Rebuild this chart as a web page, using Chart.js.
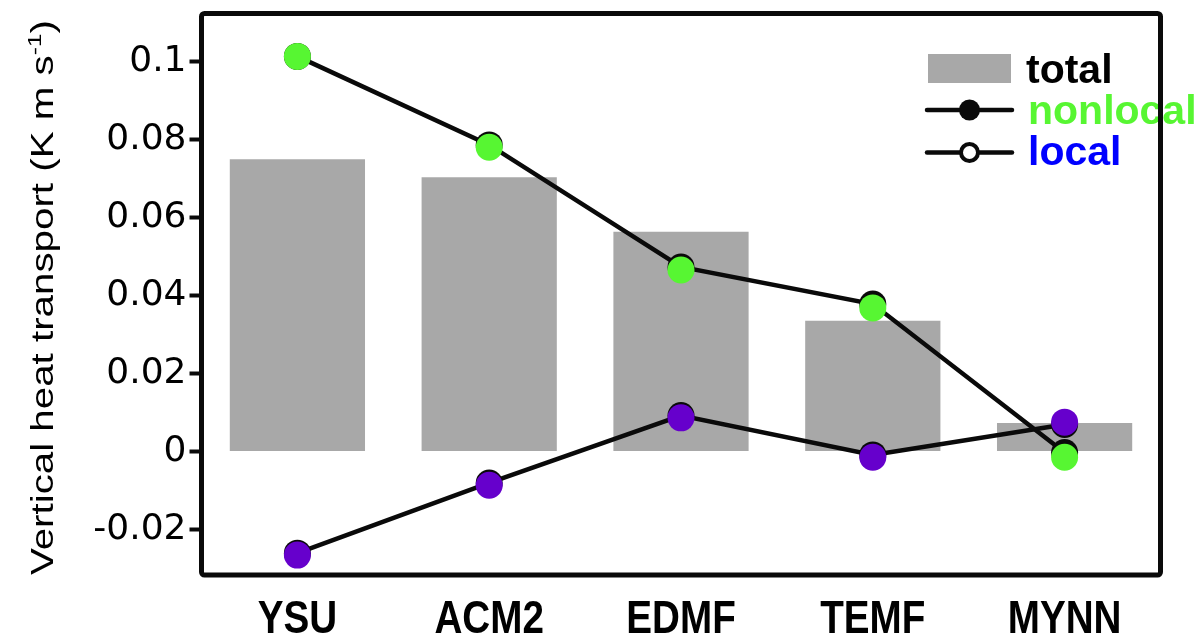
<!DOCTYPE html>
<html>
<head>
<meta charset="utf-8">
<title>Vertical heat transport</title>
<script src="https://cdn.jsdelivr.net/npm/chart.js@4.4.1/dist/chart.umd.min.js"></script>
<style>
  html, body { margin: 0; padding: 0; background: #fff; }
  #wrap { width: 1201px; height: 638px; }
</style>
</head>
<body>
<div id="wrap"><canvas id="heatChart" width="1201" height="638"></canvas></div>
<script>
// --- data ---
const categories = ['YSU', 'ACM2', 'EDMF', 'TEMF', 'MYNN'];
const total = [0.0749, 0.0703, 0.0563, 0.0335, 0.0073];
// black markers carry the connecting lines, coloured dots sit on top
const nonlocal = [0.1013, 0.0786, 0.0473, 0.0378, -0.0003];
const nonlocalDots = [0.1013, 0.0780, 0.0465, 0.0368, -0.0015];
const local = [-0.0261, -0.0081, 0.0092, -0.0009, 0.0069];
const localDots = [-0.0266, -0.0087, 0.0086, -0.0015, 0.0075];
const yTicks = [-0.02, 0, 0.02, 0.04, 0.06, 0.08, 0.1];

const GRAY = '#a8a8a8';
const GREEN = '#57f632';
const PURPLE = '#6600cc';
const BLUE = '#0000ff';
const INK = '#0a0a0a';

// --- frame, legend, category labels and axis title ---
const decorations = {
    id: 'decorations',
    afterDatasetsDraw(chart) {
        const ctx = chart.ctx;
        const a = chart.chartArea;
        ctx.save();

        // legend
        ctx.fillStyle = GRAY;
        ctx.fillRect(928, 54, 83, 29);
        ctx.font = 'bold 41px "Liberation Sans", Arial, sans-serif';
        ctx.textBaseline = 'alphabetic';
        ctx.fillStyle = '#000';
        ctx.fillText('total', 1026, 83);

        ctx.strokeStyle = INK;
        ctx.lineWidth = 4.5;
        ctx.lineCap = 'round';
        ctx.beginPath(); ctx.moveTo(927, 110); ctx.lineTo(1012, 110); ctx.stroke();
        ctx.fillStyle = INK;
        ctx.beginPath(); ctx.arc(969.5, 110, 10.5, 0, Math.PI * 2); ctx.fill();
        ctx.fillStyle = GREEN;
        ctx.fillText('nonlocal', 1028, 124);

        ctx.beginPath(); ctx.moveTo(927, 152.5); ctx.lineTo(1012, 152.5); ctx.stroke();
        ctx.fillStyle = '#fff';
        ctx.lineWidth = 4;
        ctx.beginPath(); ctx.arc(969.5, 152.5, 8.5, 0, Math.PI * 2); ctx.fill(); ctx.stroke();
        ctx.fillStyle = BLUE;
        ctx.fillText('local', 1028, 165);

        // plot frame
        ctx.strokeStyle = INK;
        ctx.lineWidth = 5;
        ctx.lineJoin = 'round';
        ctx.beginPath();
        ctx.roundRect(a.left, a.top, a.right - a.left, a.bottom - a.top, 3);
        ctx.stroke();

        // category labels, bold and narrow
        const xs = chart.scales.x;
        ctx.fillStyle = '#000';
        ctx.font = 'bold 46px "Liberation Sans", Arial, sans-serif';
        ctx.textAlign = 'center';
        categories.forEach((c, i) => {
            ctx.save();
            ctx.translate(xs.getPixelForTick(i), 633);
            ctx.scale(0.84, 1);
            ctx.fillText(c, 0, 0);
            ctx.restore();
        });
        ctx.textAlign = 'left';

        // y axis title with superscript
        ctx.translate(53, 575);
        ctx.rotate(-Math.PI / 2);
        ctx.scale(1.3, 1);
        const base = '31px "Liberation Sans", Arial, sans-serif';
        const sup = '19px "Liberation Sans", Arial, sans-serif';
        let x = 0;
        ctx.font = base;
        const main = 'Vertical heat transport (K m s';
        ctx.fillText(main, x, 0);
        x += ctx.measureText(main).width;
        ctx.font = sup;
        ctx.fillText('-1', x, -12);
        x += ctx.measureText('-1').width;
        ctx.font = base;
        ctx.fillText(')', x, 0);

        ctx.restore();
    }
};

const ctx = document.getElementById('heatChart').getContext('2d');
new Chart(ctx, {
    type: 'bar',
    data: {
        labels: categories,
        datasets: [
            {
                label: 'total',
                data: total,
                backgroundColor: GRAY,
                borderWidth: 0,
                barPercentage: 0.705,
                categoryPercentage: 1,
                order: 5
            },
            {
                type: 'line',
                label: 'nonlocal',
                data: nonlocal,
                borderColor: INK,
                borderWidth: 4.5,
                pointRadius: 13.5,
                pointBackgroundColor: INK,
                pointBorderWidth: 0,
                tension: 0,
                clip: false,
                order: 3
            },
            {
                type: 'line',
                label: 'local',
                data: local,
                borderColor: INK,
                borderWidth: 4.5,
                pointRadius: 13.5,
                pointBackgroundColor: INK,
                pointBorderWidth: 0,
                tension: 0,
                clip: false,
                order: 3
            },
            {
                type: 'line',
                label: 'nonlocal dots',
                data: nonlocalDots,
                showLine: false,
                pointRadius: 13.5,
                pointBackgroundColor: GREEN,
                pointBorderWidth: 0,
                clip: false,
                order: 1
            },
            {
                type: 'line',
                label: 'local dots',
                data: localDots,
                showLine: false,
                pointRadius: 13.5,
                pointBackgroundColor: PURPLE,
                pointBorderWidth: 0,
                clip: false,
                order: 1
            }
        ]
    },
    options: {
        responsive: false,
        animation: false,
        layout: { padding: { top: 12, right: 40.5, left: 0, bottom: 0 } },
        plugins: {
            legend: { display: false },
            tooltip: { enabled: false }
        },
        scales: {
            x: {
                offset: true,
                grid: { display: false },
                border: { display: false },
                ticks: { display: false },
                afterFit(scale) {
                    scale.height = 63;
                    scale.paddingLeft = 0;
                    scale.paddingRight = 0;
                }
            },
            y: {
                min: -0.0317,
                max: 0.1123,
                grid: {
                    drawOnChartArea: false,
                    drawTicks: true,
                    tickLength: 12,
                    tickWidth: 4,
                    tickColor: INK
                },
                border: { display: false },
                afterBuildTicks(scale) {
                    scale.ticks = yTicks.map(v => ({ value: v }));
                },
                ticks: {
                    color: '#000',
                    padding: 3,
                    font: { family: '"DejaVu Sans", sans-serif', size: 36 },
                    callback: (v) => String(Number(v.toFixed(2)))
                },
                afterFit(scale) {
                    scale.width = 201.5;
                    scale.paddingTop = 0;
                    scale.paddingBottom = 0;
                }
            }
        }
    },
    plugins: [decorations]
});
</script>
</body>
</html>
